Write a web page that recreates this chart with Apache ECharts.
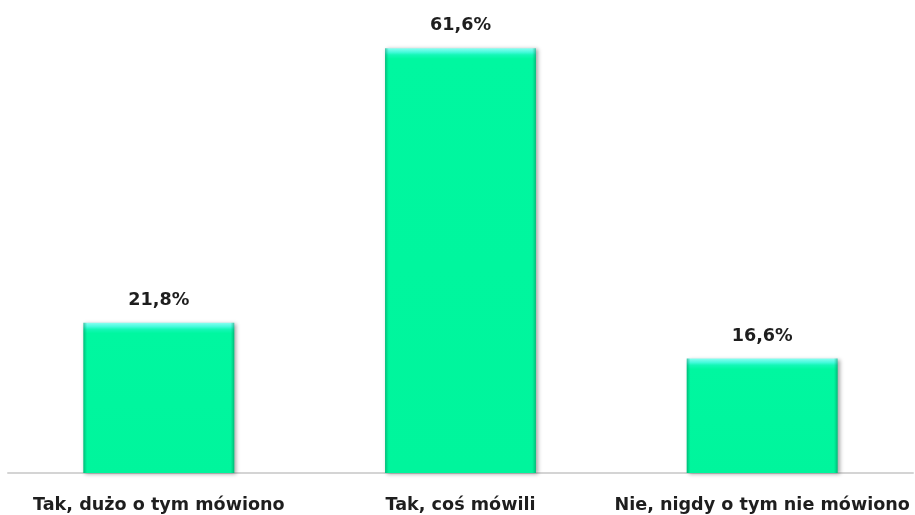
<!DOCTYPE html>
<html>
<head>
<meta charset="utf-8">
<script src="https://cdn.jsdelivr.net/npm/echarts@6/dist/echarts.min.js"></script>
<style>
  html, body { margin: 0; padding: 0; background: #ffffff; }
  #chart { width: 915px; height: 515px; }
</style>
</head>
<body>
<div id="chart"></div>
<script>
// Answer categories and their shares (%)
const categories = ['Tak, dużo o tym mówiono', 'Tak, coś mówili', 'Nie, nigdy o tym nie mówiono'];
const shares = [21.8, 61.6, 16.6];

const FONT = '"DejaVu Sans", sans-serif';
const Y_MAX = 68.6;

// Bevelled face: a light cyan strip along the top edge of every bar
function faceFill(v) {
  const edge = Math.min(0.5, 0.014 * Y_MAX / v);
  return {
    type: 'linear', x: 0, y: 0, x2: 0, y2: 1,
    colorStops: [
      { offset: 0, color: '#8afff2' },
      { offset: edge * 0.6, color: '#45fadb' },
      { offset: edge, color: '#14f7b6' },
      { offset: edge * 1.6, color: '#00f7a0' },
      { offset: 1, color: '#00f59c' }
    ]
  };
}

const chart = echarts.init(document.getElementById('chart'), null, { renderer: 'canvas' });

chart.setOption({
  animation: false,
  backgroundColor: '#ffffff',
  grid: { left: 8, right: 2, top: 0, bottom: 42, containLabel: false },
  xAxis: {
    type: 'category',
    data: categories,
    axisLine: { show: true, lineStyle: { color: '#d4d4d4', width: 2 } },
    axisTick: { show: false },
    axisLabel: {
      interval: 0,
      margin: 23.5,
      color: '#1e1e1e',
      fontFamily: FONT,
      fontWeight: 'bold',
      fontSize: 17.6
    }
  },
  yAxis: {
    type: 'value',
    min: 0,
    max: Y_MAX,
    show: false,
    splitLine: { show: false }
  },
  series: [
    {
      type: 'bar',
      barWidth: '50%',
      data: shares.map(v => ({
        value: v,
        itemStyle: { color: faceFill(v) }
      })),
      itemStyle: {
        shadowColor: 'rgba(0,0,0,0.35)',
        shadowBlur: 4,
        shadowOffsetX: 2,
        shadowOffsetY: 1
      },
      label: {
        show: true,
        position: 'top',
        distance: 13.5,
        formatter: p => String(p.value).replace('.', ',') + '%',
        color: '#1e1e1e',
        fontFamily: FONT,
        fontWeight: 'bold',
        fontSize: 17.6
      },
      z: 2
    },
    {
      // darker side edges laid over the face
      type: 'bar',
      barWidth: '50%',
      barGap: '-100%',
      silent: true,
      data: shares,
      itemStyle: {
        color: {
          type: 'linear', x: 0, y: 0, x2: 1, y2: 0,
          colorStops: [
            { offset: 0, color: 'rgba(0,110,70,0.45)' },
            { offset: 0.025, color: 'rgba(0,160,100,0.0)' },
            { offset: 0.975, color: 'rgba(0,160,100,0.0)' },
            { offset: 1, color: 'rgba(0,110,70,0.45)' }
          ]
        }
      },
      z: 3
    }
  ]
});
</script>
</body>
</html>
